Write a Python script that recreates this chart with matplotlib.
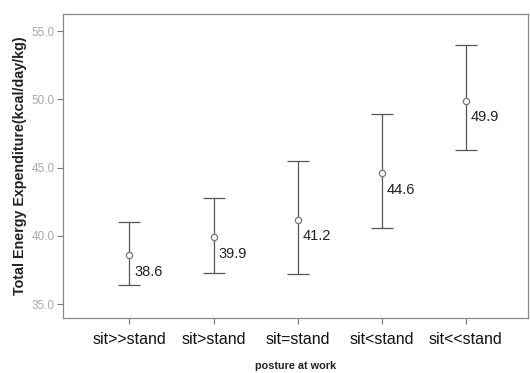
import matplotlib
matplotlib.use('Agg')
import matplotlib.pyplot as plt

plt.rcParams['font.family'] = ['Liberation Sans', 'DejaVu Sans']

categories = ['sit>>stand', 'sit>stand', 'sit=stand', 'sit<stand', 'sit<<stand']
means = [38.6, 39.9, 41.2, 44.6, 49.9]
upper = [41.0, 42.8, 45.5, 48.9, 54.0]
lower = [36.4, 37.3, 37.2, 40.6, 46.3]
yticks = [35.0, 40.0, 45.0, 50.0, 55.0]

fig = plt.figure(figsize=(5.3, 3.73), dpi=100)
ax = fig.add_axes([0.119, 0.147, 0.877, 0.815])

x = list(range(len(categories)))
err = [[m - lo for m, lo in zip(means, lower)], [up - m for m, up in zip(means, upper)]]
ax.errorbar(x, means, yerr=err, fmt='o', color='#555555', ecolor='#555555',
            elinewidth=0.9, capsize=8, capthick=0.9, ms=4.5, mfc='white',
            mec='#777777', mew=0.9)

for xi, m in zip(x, means):
    ax.annotate('{:.1f}'.format(m), (xi, m), xytext=(3.5, -12), textcoords='offset points',
                fontsize=10.5, color='#222222', va='center', ha='left')

ax.set_xlim(-0.79, 4.74)
ax.set_ylim(33.97, 56.25)
ax.set_xticks(x)
ax.set_xticklabels(categories, fontsize=11.5, color='#111111')
ax.set_yticks(yticks)
ax.set_yticklabels(['{:.1f}'.format(t) for t in yticks], fontsize=8.5, color='#aaaaaa')
ax.tick_params(axis='both', direction='out', length=4, color='#777777', width=0.8)
ax.tick_params(axis='x', pad=6)
ax.tick_params(axis='y', pad=2)
for s in ax.spines.values():
    s.set_color('#888888')
    s.set_linewidth(0.9)

ax.set_ylabel('Total Energy Expenditure(kcal/day/kg)', fontsize=10.3, fontweight='bold', color='#222222', labelpad=3)
ax.set_xlabel('posture at work', fontsize=7.8, fontweight='bold', color='#222222', labelpad=10)

fig.savefig('out.png', dpi=100)
